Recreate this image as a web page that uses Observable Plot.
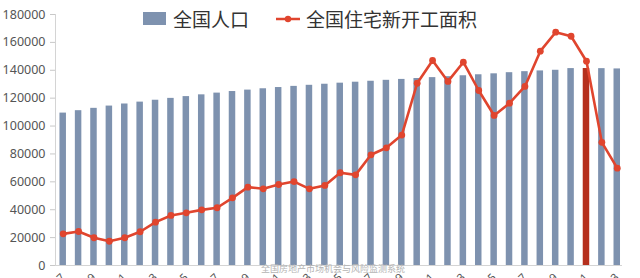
<!DOCTYPE html>
<html>
<head>
<meta charset="utf-8">
<script src="https://cdn.jsdelivr.net/npm/d3@7"></script>
<script src="https://cdn.jsdelivr.net/npm/@observablehq/plot@0.6"></script>
<style>
  html, body { margin: 0; padding: 0; background: #fff; overflow: hidden; }
  #wrap { position: relative; width: 640px; height: 278px; overflow: hidden; }
  #wrap svg { overflow: hidden; }
  #legend { position: absolute; left: 143px; top: 5px; display: flex; align-items: center;
    font-family: "Noto Sans CJK SC", "Noto Sans", sans-serif; font-size: 19px; color: #333; }
  .sw { display: inline-block; width: 23px; height: 13px; background: #7e92af; margin-right: 7px; }
  #wm { position: absolute; left: 261px; top: 262px; font-family: "Noto Sans CJK SC", sans-serif;
    font-size: 9px; color: #b4b4b4; white-space: nowrap; }
</style>
</head>
<body>
<div id="wrap">
  <div id="chart"></div>
  <div id="legend">
    <span class="sw"></span><span>全国人口</span>
    <svg width="26" height="14" style="margin-left:26px;margin-right:5px">
      <line x1="1" x2="25" y1="7" y2="7" stroke="#e0452e" stroke-width="2.5"></line>
      <circle cx="13" cy="7" r="3.2" fill="#e0452e"></circle>
    </svg>
    <span>全国住宅新开工面积</span>
  </div>
  <div id="wm">全国房地产市场机会与风险监测系统</div>
</div>
<script>
const years = d3.range(1987, 2024);
const population = [109300, 111026, 112704, 114333, 115823, 117171, 118517, 119850, 121121, 122389,
  123626, 124761, 125786, 126743, 127627, 128453, 129227, 129988, 130756, 131448,
  132129, 132802, 133450, 134091, 134735, 135404, 136072, 136782, 137462, 138271,
  139008, 139538, 140005, 141212, 141260, 141175, 140967];
const newStarts = [22700, 24400, 19900, 17400, 19900, 24200, 31100, 35900, 37800, 39900,
  41400, 48500, 56200, 55000, 58100, 60200, 55000, 57400, 66500, 65000,
  79400, 84400, 93500, 130700, 147000, 132000, 145800, 125500, 107600, 116400,
  128400, 153700, 167300, 164400, 146500, 88300, 69800];
const highlightYear = 2021;
const yTicks = d3.range(0, 180001, 20000);
const xTickYears = years.filter((y, i) => i % 2 === 0);

const data = years.map((year, i) => ({year, pop: population[i], starts: newStarts[i]}));

const chart = Plot.plot({
  width: 640,
  height: 278,
  marginLeft: 55,
  marginRight: 18,
  marginTop: 14,
  marginBottom: 13,
  style: {fontFamily: "'Noto Sans', sans-serif", background: "#fff"},
  x: {type: "band", domain: years, padding: 0.578, round: false, range: [50.56, 628.9], axis: null, label: null},
  y: {domain: [0, 180000], axis: null, label: null},
  marks: [
    Plot.frame({anchor: "left", stroke: "#d4d4d4"}),
    Plot.barY(data.filter(d => d.year !== highlightYear), {x: "year", y: "pop", fill: "#7e92af"}),
    Plot.barY(data.filter(d => d.year === highlightYear), {x: "year", y: "pop", fill: "#b5301d"}),
    Plot.ruleY([0], {stroke: "#d4d4d4"}),
    Plot.axisY({ticks: yTicks, tickSize: 5, tickPadding: 5, fontSize: 12.5, stroke: "#c8c8c8",
      color: "#555", label: null, tickFormat: d => String(d)}),
    Plot.axisX({ticks: xTickYears, tickSize: 0, tickPadding: 10, tickRotate: -45, fontSize: 11,
      color: "#555", label: null}),
    Plot.line(data, {x: "year", y: "starts", stroke: "#e0452e", strokeWidth: 2.6, curve: "linear"}),
    Plot.dot(data, {x: "year", y: "starts", r: 3.4, fill: "#e0452e"})
  ]
});
document.getElementById("chart").appendChild(chart);
</script>
</body>
</html>
